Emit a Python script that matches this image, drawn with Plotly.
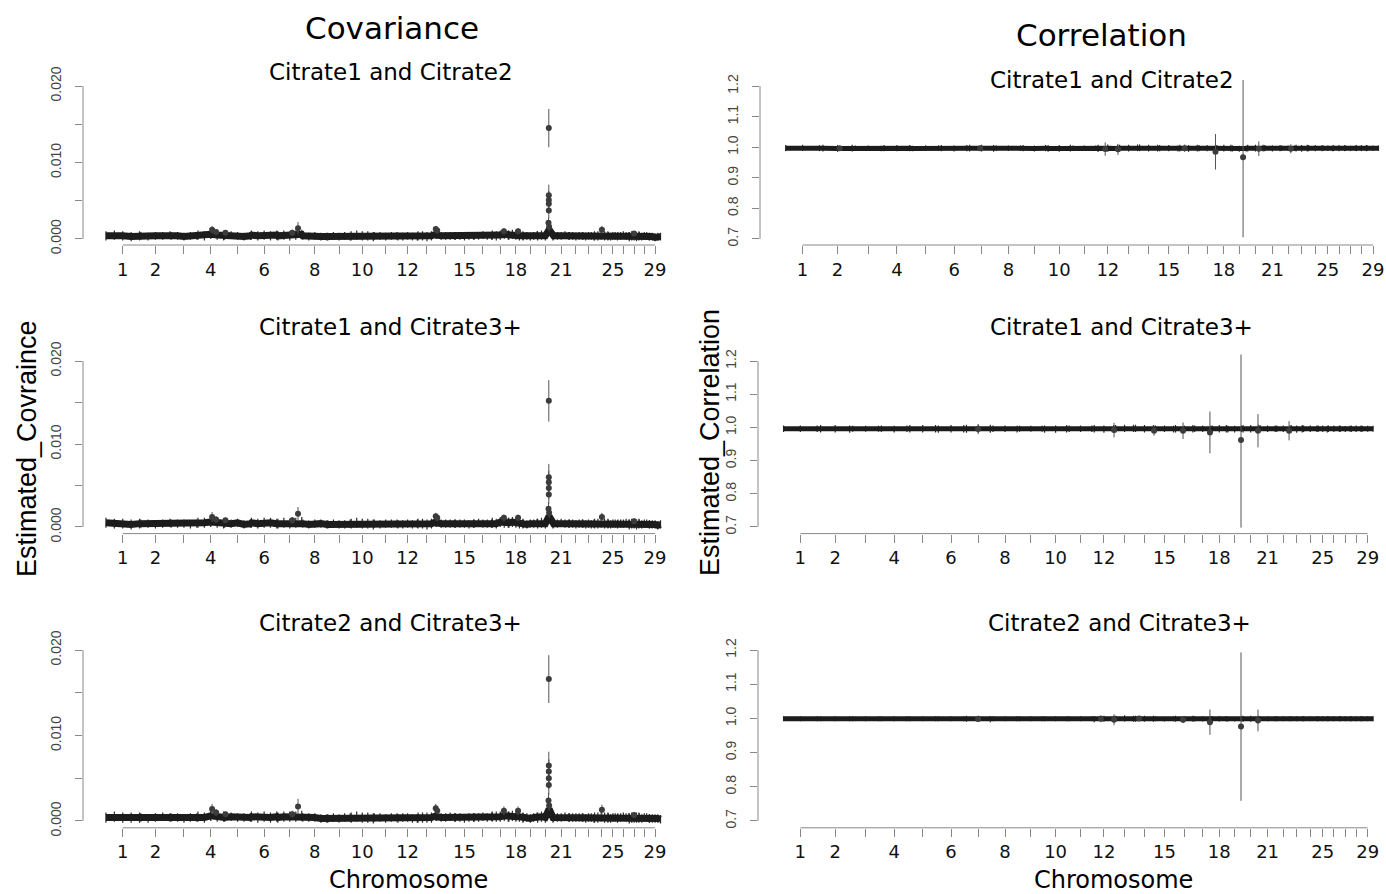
import plotly.graph_objects as go

# ---------------- data ----------------
chromosomes = list(range(1, 30))
chrom_length_mb = [158.3, 137.1, 121.4, 120.8, 121.2, 119.5, 112.6, 113.4, 105.7, 104.3,
                   107.3, 91.2, 84.2, 84.6, 85.3, 81.7, 75.2, 66.0, 64.1, 72.0,
                   71.6, 61.4, 52.5, 62.7, 42.9, 51.7, 45.4, 46.3, 51.5]
tick_labels = ["1", "2", "", "4", "", "6", "", "8", "", "10", "", "12", "", "", "15",
               "", "", "18", "", "", "21", "", "", "", "25", "", "", "", "29"]

cov_window_frac = [0.02, 0.26, 0.5, 0.74, 0.98]
corr_window_frac = [0.05, 0.5, 0.95]

# covariance, genome-wide windows (units of 1e-4)
cov_c1c2_band = [
    [4, 5, 4, 3, 4], [4, 3, 4, 4, 5], [4, 4, 3, 4, 4], [5, 4, 6, 5, 4], [4, 5, 4, 3, 4],
    [5, 4, 5, 4, 5], [4, 5, 4, 5, 6], [4, 3, 4, 3, 3], [3, 4, 3, 4, 3], [4, 5, 4, 4, 3],
    [4, 4, 3, 4, 4], [3, 3, 4, 3, 3], [4, 4, 3, 4, 6], [5, 4, 4, 4, 4], [4, 4, 3, 4, 4],
    [4, 4, 5, 4, 4], [5, 4, 5, 6, 5], [5, 6, 5, 4, 4], [4, 4, 3, 4, 5], [4, 5, 4, 12, 4],
    [4, 4, 4, 5, 4], [4, 4, 3, 4, 4], [4, 3, 4, 4, 3], [4, 4, 5, 4, 4], [4, 3, 4, 4, 3],
    [4, 4, 5, 4, 4], [3, 4, 4, 3, 4], [4, 3, 4, 4, 3], [3, 3, 2, 3, 3]]
cov_c1c3_band = [
    [5, 4, 4, 3, 4], [4, 4, 3, 4, 5], [4, 4, 4, 3, 4], [5, 5, 6, 5, 4], [4, 4, 5, 3, 4],
    [5, 4, 5, 5, 4], [4, 5, 4, 5, 6], [4, 3, 4, 4, 3], [3, 4, 3, 3, 4], [4, 5, 4, 4, 3],
    [4, 3, 4, 4, 4], [3, 3, 4, 3, 4], [4, 4, 3, 4, 6], [5, 4, 4, 4, 4], [4, 4, 4, 3, 4],
    [4, 5, 4, 4, 4], [5, 4, 6, 5, 5], [5, 6, 5, 4, 4], [4, 3, 4, 4, 5], [4, 5, 4, 13, 4],
    [4, 4, 5, 4, 4], [4, 4, 3, 4, 4], [4, 3, 4, 3, 4], [4, 4, 5, 4, 4], [4, 3, 4, 4, 3],
    [4, 4, 4, 5, 4], [3, 4, 4, 3, 4], [4, 3, 4, 4, 3], [3, 3, 3, 2, 3]]
cov_c2c3_band = [
    [4, 5, 4, 4, 4], [4, 3, 4, 5, 4], [4, 4, 3, 4, 4], [5, 4, 6, 5, 5], [4, 5, 4, 4, 4],
    [5, 4, 5, 4, 5], [4, 5, 5, 5, 6], [4, 4, 4, 3, 3], [3, 4, 3, 4, 4], [4, 5, 4, 4, 3],
    [4, 4, 3, 4, 4], [3, 4, 4, 3, 3], [4, 4, 4, 4, 6], [5, 4, 4, 5, 4], [4, 4, 3, 4, 4],
    [4, 4, 5, 4, 5], [5, 5, 5, 6, 5], [5, 6, 5, 5, 4], [4, 4, 3, 4, 5], [4, 5, 4, 14, 4],
    [4, 4, 4, 5, 4], [4, 4, 4, 4, 4], [4, 3, 4, 4, 3], [4, 4, 5, 4, 4], [4, 3, 4, 4, 3],
    [4, 4, 5, 4, 4], [3, 4, 4, 4, 4], [4, 3, 4, 4, 3], [3, 3, 3, 3, 2]]
cov_c1c2_band_err = [6, 5, 5, 6, 5, 6, 6, 5, 5, 6, 5, 5, 6, 5, 5, 5, 6, 6, 5, 6, 5, 5, 5, 6, 5, 5, 6, 5, 5]
cov_c1c3_band_err = [6, 5, 5, 6, 5, 6, 6, 5, 5, 6, 5, 5, 6, 5, 5, 5, 6, 6, 5, 6, 5, 5, 5, 6, 5, 5, 6, 5, 5]
cov_c2c3_band_err = [6, 5, 5, 6, 5, 6, 6, 5, 5, 6, 5, 5, 6, 5, 5, 5, 6, 6, 5, 6, 5, 5, 5, 6, 5, 5, 6, 5, 5]

# covariance, windows standing out of the band (units of 1e-4)
cov_c1c2_spike_chrom = [4, 4, 5, 7, 7, 13, 14, 17, 18, 20, 20, 20, 20, 20, 20, 20, 24, 27]
cov_c1c2_spike_frac = [0.55, 0.7, 0.05, 0.6, 0.83, 0.97, 0.05, 0.72, 0.65, 0.72, 0.72, 0.72, 0.72, 0.72, 0.70, 0.74, 0.55, 0.5]
cov_c1c2_spike_value = [12, 9, 8, 8, 14, 13, 11, 10, 10, 145, 57, 51, 46, 37, 21, 16, 12, 7]
cov_c1c2_spike_err = [5, 4, 3, 4, 8, 4, 4, 4, 4, 25, 14, 12, 12, 10, 7, 6, 5, 3]

cov_c1c3_spike_chrom = [4, 4, 5, 7, 7, 13, 14, 17, 18, 20, 20, 20, 20, 20, 20, 20, 24, 27]
cov_c1c3_spike_frac = [0.55, 0.7, 0.05, 0.6, 0.83, 0.97, 0.05, 0.72, 0.65, 0.72, 0.72, 0.72, 0.72, 0.72, 0.70, 0.74, 0.55, 0.5]
cov_c1c3_spike_value = [12, 9, 8, 8, 16, 13, 11, 11, 11, 152, 60, 54, 47, 39, 22, 17, 12, 7]
cov_c1c3_spike_err = [6, 4, 3, 4, 8, 4, 4, 4, 4, 25, 16, 14, 13, 11, 8, 6, 5, 3]

cov_c2c3_spike_chrom = [4, 4, 5, 7, 7, 13, 14, 17, 18, 20, 20, 20, 20, 20, 20, 20, 24, 27]
cov_c2c3_spike_frac = [0.55, 0.7, 0.05, 0.6, 0.83, 0.97, 0.05, 0.72, 0.65, 0.72, 0.72, 0.72, 0.72, 0.72, 0.70, 0.74, 0.55, 0.5]
cov_c2c3_spike_value = [14, 10, 8, 8, 17, 15, 12, 12, 12, 166, 65, 58, 50, 42, 24, 18, 13, 7]
cov_c2c3_spike_err = [6, 4, 3, 4, 9, 5, 4, 5, 5, 28, 16, 14, 13, 12, 9, 6, 6, 3]

# correlation, genome-wide windows
corr_c1c2_band = [
    [0.997, 0.998, 0.997], [0.997, 0.996, 0.997], [0.997, 0.997, 0.996], [0.997, 0.997, 0.997], [0.996, 0.997, 0.997],
    [0.997, 0.996, 0.997], [0.997, 0.997, 0.996], [0.997, 0.997, 0.997], [0.997, 0.996, 0.997], [0.996, 0.996, 0.997],
    [0.997, 0.997, 0.997], [0.996, 0.997, 0.996], [0.997, 0.997, 0.998], [0.998, 0.997, 0.997], [0.997, 0.997, 0.996],
    [0.997, 0.996, 0.997], [0.997, 0.997, 0.996], [0.996, 0.997, 0.997], [0.996, 0.995, 0.996], [0.997, 0.997, 0.997],
    [0.997, 0.996, 0.997], [0.997, 0.997, 0.997], [0.997, 0.996, 0.997], [0.997, 0.997, 0.997], [0.997, 0.997, 0.996],
    [0.997, 0.997, 0.997], [0.997, 0.996, 0.997], [0.997, 0.997, 0.997], [0.997, 0.997, 0.997]]
corr_c1c3_band = [
    [0.996, 0.996, 0.996], [0.996, 0.996, 0.995], [0.996, 0.996, 0.996], [0.996, 0.995, 0.996], [0.996, 0.996, 0.996],
    [0.995, 0.996, 0.996], [0.996, 0.996, 0.996], [0.996, 0.996, 0.995], [0.996, 0.996, 0.996], [0.995, 0.995, 0.996],
    [0.996, 0.996, 0.996], [0.996, 0.995, 0.996], [0.996, 0.997, 0.997], [0.997, 0.996, 0.996], [0.996, 0.996, 0.995],
    [0.996, 0.995, 0.996], [0.996, 0.996, 0.995], [0.995, 0.996, 0.996], [0.995, 0.995, 0.996], [0.996, 0.996, 0.997],
    [0.997, 0.996, 0.996], [0.996, 0.996, 0.996], [0.996, 0.995, 0.996], [0.996, 0.996, 0.996], [0.996, 0.996, 0.995],
    [0.996, 0.996, 0.996], [0.996, 0.995, 0.996], [0.996, 0.996, 0.996], [0.996, 0.996, 0.996]]
corr_c2c3_band = [
    [0.999, 0.999, 0.999], [0.999, 0.999, 0.999], [0.999, 0.999, 0.999], [0.999, 0.999, 0.999], [0.999, 0.999, 0.999],
    [0.999, 0.999, 0.999], [0.999, 0.999, 0.998], [0.999, 0.999, 0.999], [0.999, 0.999, 0.999], [0.999, 0.999, 0.999],
    [0.999, 0.999, 0.999], [0.998, 0.999, 0.999], [0.999, 1.000, 0.999], [0.999, 0.999, 0.999], [0.999, 0.998, 0.999],
    [0.999, 0.998, 0.999], [0.999, 0.999, 0.998], [0.998, 0.999, 0.999], [0.998, 0.998, 0.999], [0.999, 0.999, 0.999],
    [0.999, 0.999, 0.999], [0.999, 0.999, 0.999], [0.999, 0.999, 0.999], [0.999, 0.999, 0.999], [0.999, 0.999, 0.999],
    [0.999, 0.999, 0.999], [0.999, 0.999, 0.999], [0.999, 0.999, 0.999], [0.999, 0.999, 0.999]]
corr_c1c2_band_err = [0.010, 0.011, 0.009, 0.010, 0.009, 0.010, 0.011, 0.009, 0.010, 0.011, 0.009, 0.012, 0.011, 0.011, 0.010,
                      0.011, 0.010, 0.011, 0.010, 0.011, 0.010, 0.009, 0.011, 0.010, 0.009, 0.010, 0.009, 0.010, 0.009]
corr_c1c3_band_err = [0.010, 0.011, 0.009, 0.010, 0.011, 0.011, 0.012, 0.010, 0.009, 0.011, 0.010, 0.011, 0.011, 0.011, 0.010,
                      0.011, 0.010, 0.011, 0.010, 0.011, 0.010, 0.010, 0.011, 0.010, 0.010, 0.010, 0.009, 0.010, 0.009]
corr_c2c3_band_err = [0.007, 0.007, 0.007, 0.007, 0.007, 0.007, 0.009, 0.007, 0.007, 0.007, 0.007, 0.009, 0.009, 0.009, 0.007,
                      0.009, 0.008, 0.008, 0.007, 0.009, 0.007, 0.007, 0.007, 0.007, 0.007, 0.007, 0.007, 0.007, 0.007]

corr_c1c2_spike_chrom = [2, 7, 12, 12, 16, 17, 19, 20, 22]
corr_c1c2_spike_frac = [0.56, 0.45, 0.38, 0.97, 0.3, 0.97, 0.75, 0.7, 0.68]
corr_c1c2_spike_value = [0.997, 0.997, 0.994, 0.993, 0.997, 0.985, 0.967, 0.995, 0.995]
corr_c1c2_spike_err = [0.006, 0.008, 0.022, 0.018, 0.012, 0.058, 0.262, 0.024, 0.015]

corr_c1c3_spike_chrom = [7, 12, 14, 16, 17, 19, 20, 22]
corr_c1c3_spike_frac = [0.49, 0.97, 0.98, 0.44, 0.91, 0.92, 0.93, 0.9]
corr_c1c3_spike_value = [0.995, 0.992, 0.99, 0.99, 0.985, 0.962, 0.99, 0.99]
corr_c1c3_spike_err = [0.015, 0.022, 0.015, 0.025, 0.063, 0.264, 0.05, 0.029]

corr_c2c3_spike_chrom = [7, 12, 12, 14, 16, 17, 19, 20]
corr_c2c3_spike_frac = [0.49, 0.36, 0.97, 0.23, 0.44, 0.91, 0.92, 0.93]
corr_c2c3_spike_value = [0.998, 0.999, 0.996, 1.0, 0.996, 0.989, 0.976, 0.994]
corr_c2c3_spike_err = [0.008, 0.01, 0.016, 0.006, 0.01, 0.037, 0.217, 0.032]

pair_titles = ["Citrate1 and Citrate2", "Citrate1 and Citrate3+", "Citrate2 and Citrate3+"]

# ---------------- helpers ----------------
offsets = []
acc = 0.0
for L in chrom_length_mb:
    offsets.append(acc)
    acc += L
genome_total = acc
centers = [o + L / 2 for o, L in zip(offsets, chrom_length_mb)]


def band_xy(band, band_err, fracs, scale):
    xs, ys, es = [], [], []
    for ci, vals in enumerate(band):
        for f, v in zip(fracs, vals):
            xs.append(offsets[ci] + f * chrom_length_mb[ci])
            ys.append(v * scale)
            es.append(band_err[ci] * scale)
    return xs, ys, es


def spike_xy(chroms, fracs, vals, errs, scale):
    xs = [offsets[c - 1] + f * chrom_length_mb[c - 1] for c, f in zip(chroms, fracs)]
    return xs, [v * scale for v in vals], [e * scale for e in errs]


FONT = "DejaVu Sans, Liberation Sans, Arial, sans-serif"
FONT_V = "Liberation Sans, Arial, Helvetica, sans-serif"
W, H = 1386, 894

panels = [
    dict(col="cov", band=cov_c1c2_band, berr=cov_c1c2_band_err,
         sp=(cov_c1c2_spike_chrom, cov_c1c2_spike_frac, cov_c1c2_spike_value, cov_c1c2_spike_err),
         xdom=(83, 683), ydom=(80, 245), xr=(-100.5, 2612.5)),
    dict(col="corr", band=corr_c1c2_band, berr=corr_c1c2_band_err,
         sp=(corr_c1c2_spike_chrom, corr_c1c2_spike_frac, corr_c1c2_spike_value, corr_c1c2_spike_err),
         xdom=(760, 1386), ydom=(80, 245), xr=(-100.5, 2541.0)),
    dict(col="cov", band=cov_c1c3_band, berr=cov_c1c3_band_err,
         sp=(cov_c1c3_spike_chrom, cov_c1c3_spike_frac, cov_c1c3_spike_value, cov_c1c3_spike_err),
         xdom=(83, 683), ydom=(354.4, 533.6), xr=(-100.5, 2612.5)),
    dict(col="corr", band=corr_c1c3_band, berr=corr_c1c3_band_err,
         sp=(corr_c1c3_spike_chrom, corr_c1c3_spike_frac, corr_c1c3_spike_value, corr_c1c3_spike_err),
         xdom=(758, 1386), ydom=(354.4, 533.6), xr=(-100.5, 2564.0)),
    dict(col="cov", band=cov_c2c3_band, berr=cov_c2c3_band_err,
         sp=(cov_c2c3_spike_chrom, cov_c2c3_spike_frac, cov_c2c3_spike_value, cov_c2c3_spike_err),
         xdom=(83, 683), ydom=(643.2, 827.8), xr=(-100.5, 2612.5)),
    dict(col="corr", band=corr_c2c3_band, berr=corr_c2c3_band_err,
         sp=(corr_c2c3_spike_chrom, corr_c2c3_spike_frac, corr_c2c3_spike_value, corr_c2c3_spike_err),
         xdom=(758, 1386), ydom=(643.2, 827.8), xr=(-100.5, 2564.0)),
]

fig = go.Figure()
layout = dict(
    width=W, height=H, margin=dict(l=0, r=0, t=0, b=0, pad=0, autoexpand=False),
    paper_bgcolor="white", plot_bgcolor="white", showlegend=False,
    font=dict(family=FONT, color="black"),
)
shapes = []

for i, p in enumerate(panels):
    n = "" if i == 0 else str(i + 1)
    xa, ya = "x" + n, "y" + n
    if p["col"] == "cov":
        scale, fracs, lw = 1e-4, cov_window_frac, 7
        yr = (-0.0008, 0.0208)
        ytv = [0, 0.005, 0.010, 0.015, 0.020]
        ytt = ["0.000", "", "0.010", "", "0.020"]
        ylo, yhi = 0.0, 0.020
    else:
        scale, fracs, lw = 1.0, corr_window_frac, 5
        yr = (0.68, 1.22)
        ytv = [0.7, 0.8, 0.9, 1.0, 1.1, 1.2]
        ytt = ["0.7", "0.8", "0.9", "1.0", "1.1", "1.2"]
        ylo, yhi = 0.7, 1.2

    bx, by, be = band_xy(p["band"], p["berr"], fracs, scale)
    fig.add_trace(go.Scatter(
        x=bx, y=by, mode="lines", xaxis=xa, yaxis=ya,
        line=dict(color="#1c1c1c", width=lw),
        error_y=dict(type="data", array=be, symmetric=True, visible=True,
                     color="#2a2a2a", thickness=1.2, width=0),
        hoverinfo="skip"))
    sx, sy, se = spike_xy(*p["sp"], scale)
    fig.add_trace(go.Scatter(
        x=sx, y=sy, mode="markers", xaxis=xa, yaxis=ya,
        marker=dict(color="#3c3c3c", size=6),
        error_y=dict(type="data", array=se, symmetric=True, visible=True,
                     color="#555555", thickness=1, width=0)))

    xk = "xaxis" + n
    yk = "yaxis" + n
    layout[xk] = dict(
        domain=[p["xdom"][0] / W, min(1.0, p["xdom"][1] / W)], range=list(p["xr"]),
        anchor=ya, showline=False, showgrid=False, zeroline=False, automargin=False,
        ticks="outside", ticklen=8, tickcolor="#888888", tickwidth=1,
        tickvals=centers, ticktext=tick_labels, ticklabeloverflow="allow",
        tickfont=dict(size=18, color="#111111", family=FONT))
    layout[yk] = dict(
        domain=[1 - p["ydom"][1] / H, 1 - p["ydom"][0] / H], range=list(yr),
        anchor=xa, showline=False, showgrid=False, zeroline=False, automargin=False,
        ticks="outside", ticklen=7, tickcolor="#888888", tickwidth=1,
        tickvals=ytv, ticktext=ytt, tickangle=-90, ticklabelstandoff=8,
        tickfont=dict(size=14, color="#444444", family=FONT_V))
    # R-style axis lines spanning first to last tick only
    shapes.append(dict(type="line", xref=xa, yref=ya + " domain",
                       x0=centers[0], x1=centers[-1], y0=0, y1=0,
                       line=dict(color="#888888", width=1)))
    shapes.append(dict(type="line", xref=xa + " domain", yref=ya,
                       x0=0, x1=0, y0=ylo, y1=yhi,
                       line=dict(color="#888888", width=1)))

layout["shapes"] = shapes


def ann(text, x, y, size, angle=0, family=FONT):
    return dict(text=text, x=x / W, y=1 - y / H, xref="paper", yref="paper",
                showarrow=False, xanchor="center", yanchor="middle", textangle=angle,
                font=dict(size=size, family=family, color="black"))


annotations = [
    ann("Covariance", 392, 28, 31),
    ann("Correlation", 1101, 35, 31),
    ann(pair_titles[0], 391, 72, 23),
    ann(pair_titles[1], 391, 327, 23),
    ann(pair_titles[2], 391, 623, 23),
    ann(pair_titles[0], 1112, 80, 23),
    ann(pair_titles[1], 1121, 327, 23),
    ann(pair_titles[2], 1119, 623, 23),
    ann("Estimated_Covraince", 27, 449, 27, -90, FONT_V),
    ann("Estimated_Correlation", 710, 443, 27, -90, FONT_V),
    ann("Chromosome", 408, 880, 24),
    ann("Chromosome", 1113, 880, 24),
]
layout["annotations"] = annotations

fig.update_layout(**layout)
fig.write_html(
    "out.html",
    config={"displayModeBar": False},
    post_script="document.body.style.margin='0';document.body.style.padding='0';"
                "document.body.style.overflow='hidden';",
)
